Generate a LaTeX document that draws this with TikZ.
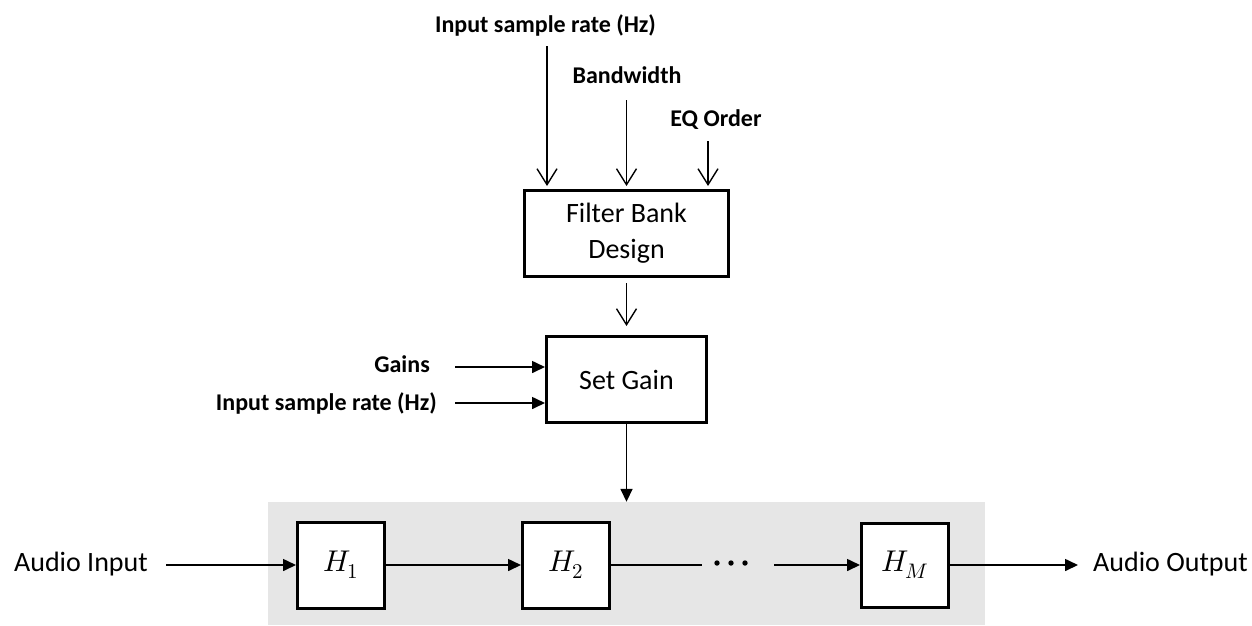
\documentclass[tikz,border=0pt]{standalone}
\usepackage{fontspec}
\usepackage{unicode-math}
\setmainfont{Carlito}
\setmathfont{Latin Modern Math}
\usetikzlibrary{arrows.meta}
\definecolor{bankgray}{HTML}{E6E6E6}
\tikzset{
  blockbox/.style={draw=black, line width=3pt, fill=white, inner sep=0pt},
  lbl/.style={inner sep=0pt, font=\fontsize{24}{28}\selectfont\bfseries},
  txt/.style={inner sep=0pt, font=\fontsize{28}{36}\selectfont},
  mathbox/.style={blockbox, minimum width=87pt},
  openarrow/.style={line width=1.4pt, -{Straight Barb[length=16pt,width=20pt]}},
  fillarrow/.style={line width=1.6pt, -{Triangle[length=13pt,width=12pt]}},
  plainline/.style={line width=1.6pt}
}
\newcommand{\bigmath}[1]{\fontsize{30}{34}\selectfont$#1$}
\begin{document}
\begin{tikzpicture}[x=1pt,y=-1pt]
\useasboundingbox (0,0) rectangle (1252,625);
% gray bank background
\node[fill=bankgray, inner sep=0pt, minimum width=717pt, minimum height=123pt] (bank) at (626.5,563.5) {};
% blocks
\node[blockbox, txt, minimum width=204pt, minimum height=86pt, align=center] (fbd) at (626.5,233.5) {Filter Bank\\Design};
\node[blockbox, txt, minimum width=160pt, minimum height=86pt] (sg) at (626.5,379.5) {Set Gain};
\node[mathbox, minimum height=86pt] (h1) at (341,565) {\bigmath{H_1}};
\node[mathbox, minimum height=86pt] (h2) at (566,565) {\bigmath{H_2}};
\node[mathbox, minimum height=84pt] (hm) at (905,565) {\bigmath{H_M}};
% labels
\node[lbl, anchor=base] (lrate) at (545.5,32) {Input sample rate (Hz)};
\node[lbl, anchor=base] (lbw) at (627,83) {Bandwidth};
\node[lbl, anchor=base] (leq) at (716,126) {EQ Order};
\node[lbl, anchor=base east] (lgain) at (430,372) {Gains};
\node[lbl, anchor=base east] (lrate2) at (437,410) {Input sample rate (Hz)};
\node[txt, anchor=base east] (ain) at (148,571) {Audio Input};
\node[txt, anchor=base west] (aout) at (1093,571) {Audio Output};
% connector ends
\coordinate (c1) at (547,46);
\coordinate (c2) at (626.5,100);
\coordinate (c3) at (708,141);
\coordinate (g1) at (455,367);
\coordinate (g2) at (455,403);
\coordinate (s0) at (166,565);
\coordinate (d1) at (702,565);
\coordinate (d2) at (774,565);
\coordinate (t0) at (1078,565);
\node[inner sep=0pt, minimum width=40pt, minimum height=8pt] (dots) at (731,563) {};
\foreach \dx in {-14,0,14} \fill ([xshift=\dx pt]dots.center) circle (2.7pt);
% connectors
\draw[openarrow, shorten >=3pt] (c1) -- (c1 |- fbd.north);
\draw[openarrow, shorten >=3pt] (c2) -- (c2 |- fbd.north);
\draw[openarrow, shorten >=3pt] (c3) -- (c3 |- fbd.north);
\draw[openarrow, shorten <=5pt, shorten >=9pt] (fbd.south) -- (sg.north);
\draw[fillarrow] (g1) -- (g1 -| sg.west);
\draw[fillarrow] (g2) -- (g2 -| sg.west);
\draw[fillarrow] (sg.south) -- (bank.north);
\draw[fillarrow] (s0) -- (h1.west);
\draw[fillarrow] (h1.east) -- (h2.west);
\draw[plainline] (h2.east) -- (d1);
\draw[fillarrow] (d2) -- (hm.west);
\draw[fillarrow] (hm.east) -- (t0);
\end{tikzpicture}
\end{document}
